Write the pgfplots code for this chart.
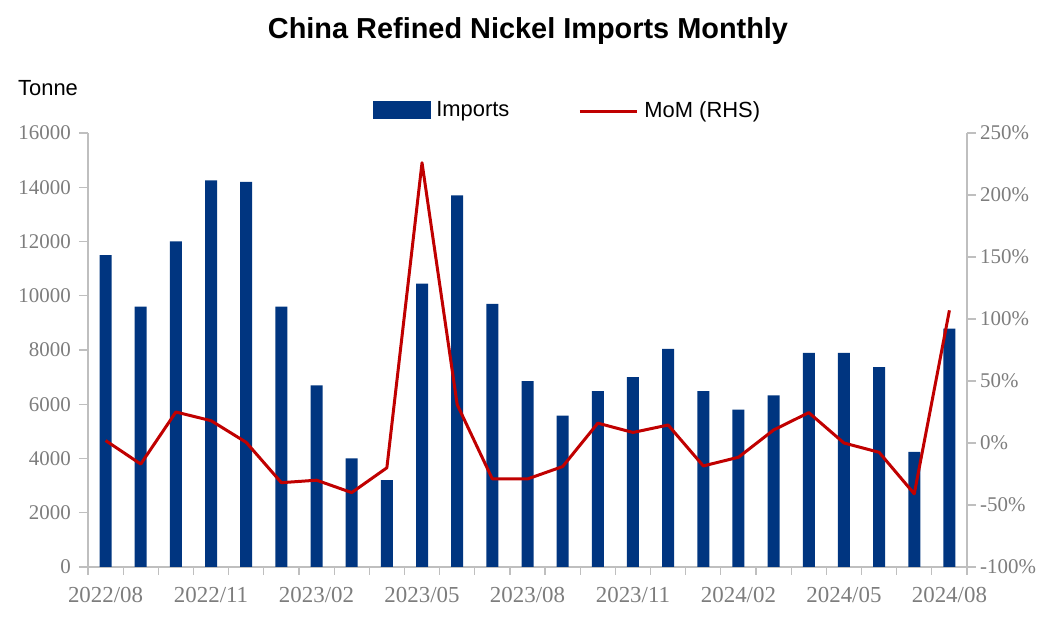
\documentclass[border=0pt]{standalone}
\usepackage{fontspec}
\setmainfont{Liberation Sans}
\newfontfamily\tickfont{Liberation Serif}
\usepackage{pgfplots}
\pgfplotsset{compat=1.18}

\definecolor{barblue}{RGB}{0,53,128}
\definecolor{momred}{RGB}{192,0,0}
\definecolor{axisgray}{RGB}{191,191,191}
\definecolor{tickgray}{RGB}{125,125,125}

\begin{document}
\begin{tikzpicture}
\useasboundingbox (-88bp,-67bp) rectangle (970bp,567bp);

\pgfplotsset{
  base/.style={
    scale only axis,
    width=879bp, height=434bp,
    at={(0,0)}, anchor=south west,
    xmin=-0.5, xmax=24.5,
    tick align=outside,
    major tick length=9bp,
    minor tick length=8bp,
    every tick/.style={axisgray, line width=1.2bp},
    axis line style={axisgray, line width=1.2bp},
    ticklabel style={font=\tickfont\fontsize{21}{21}\selectfont, text=tickgray},
    scaled y ticks=false,
  }
}

% imports, left axis
\begin{axis}[
  base,
  axis y line*=left,
  axis x line*=bottom,
  ymin=0, ymax=16000,
  ytick={0,2000,...,16000},
  yticklabels={0,2000,4000,6000,8000,10000,12000,14000,16000},
  yticklabel style={inner sep=0pt, xshift=-8bp},
  xtick={0,3,...,24},
  xticklabels={2022/08,2022/11,2023/02,2023/05,2023/08,2023/11,2024/02,2024/05,2024/08},
  major x tick style={draw=none},
  minor x tick style={draw=axisgray, line width=1.2bp},
  minor xtick={-0.5,0.5,...,24.5},
  xticklabel style={font=\tickfont\fontsize{23}{23}\selectfont, inner sep=0pt, anchor=north, yshift=-11bp},
]
\addplot[ybar, bar width=12bp, fill=barblue, draw=none] coordinates {
  (0,11500) (1,9600) (2,12000) (3,14250) (4,14200)
  (5,9600) (6,6700) (7,4000) (8,3200) (9,10450)
  (10,13700) (11,9700) (12,6850) (13,5580) (14,6480)
  (15,7000) (16,8040) (17,6480) (18,5800) (19,6330)
  (20,7890) (21,7890) (22,7370) (23,4240) (24,8790)
};
\end{axis}

% month-on-month change, right axis
\begin{axis}[
  base,
  axis y line*=right,
  axis x line=none,
  ymin=-100, ymax=250,
  ytick={-100,-50,...,250},
  yticklabels={-100\%,-50\%,0\%,50\%,100\%,150\%,200\%,250\%},
  yticklabel style={inner sep=0pt, xshift=4bp},
  legend columns=2,
  legend style={
    draw=none, fill=none, inner sep=0pt, outer sep=0pt,
    at={(axis description cs:0.3242,1.053)}, anchor=west,
    font=\fontsize{22}{22}\selectfont,
    nodes={inner sep=0pt},
    column sep=6bp,
    /tikz/every even column/.append style={column sep=69bp},
  },
]
\addlegendimage{legend image code/.code={\fill[barblue] (0bp,-8.5bp) rectangle (57bp,8.5bp);}}
\addlegendentry{Imports}
\addplot[momred, line width=3bp, line join=round,
  legend image code/.code={\draw[momred, line width=3bp] (0bp,-2bp) -- (57bp,-2bp);}]
  coordinates {
  (0,2) (1,-17) (2,25) (3,18) (4,0.5)
  (5,-32) (6,-30) (7,-40) (8,-20) (9,226)
  (10,31) (11,-29) (12,-29) (13,-19) (14,16)
  (15,8.5) (16,14.5) (17,-18.5) (18,-11.5) (19,10.5)
  (20,24.5) (21,0) (22,-7.5) (23,-41) (24,107)
};
\addlegendentry{MoM (RHS)}
\end{axis}

\node[anchor=base, inner sep=0pt, font=\bfseries\fontsize{29}{29}\selectfont] at (440bp,528bp) {China Refined Nickel Imports Monthly};
\node[anchor=base west, inner sep=0pt, font=\fontsize{22}{22}\selectfont] at (-70bp,471bp) {Tonne};
\end{tikzpicture}
\end{document}
